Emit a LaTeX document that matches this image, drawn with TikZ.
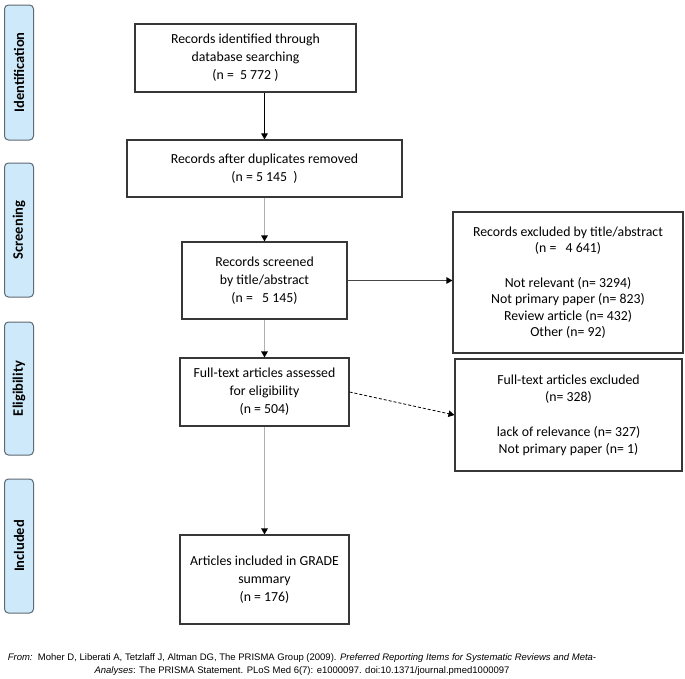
\documentclass[tikz,border=0pt]{standalone}
\usepackage{fontspec}
\setmainfont{Carlito}
\newfontfamily\footfont{Liberation Sans}
\usetikzlibrary{arrows.meta}
\definecolor{barfill}{RGB}{206,234,250}
\definecolor{bardraw}{RGB}{95,105,115}
\definecolor{boxdraw}{RGB}{55,55,55}
\definecolor{linegray}{RGB}{175,175,175}
\tikzset{
  box/.style={draw=boxdraw, line width=1.1pt, fill=white, align=center, inner sep=2pt,
    font=\fontsize{13.8}{18}\selectfont},
  sidebar/.style={draw=bardraw, line width=1pt, fill=barfill, rounded corners=4pt,
    minimum width=29pt, inner sep=0pt},
  sidelabel/.style={rotate=90, font=\fontsize{14.5}{16}\selectfont\bfseries},
  tip/.style={-{Triangle[width=6.5pt,length=6pt,color=black]}},
  darrow/.style={line width=1pt, black, tip},
  garrow/.style={line width=1.2pt, linegray, tip},
}
\begin{document}
\begin{tikzpicture}[x=1pt,y=-1pt]
\useasboundingbox[fill=white] (0,0) rectangle (685,678);

% side bars
\node[sidebar, minimum height=135pt] (sid) at (19,72.5) {};
\node[sidelabel] (tid) at (sid.center) {Identification};
\node[sidebar, minimum height=134pt] (sscr) at (19,230) {};
\node[sidelabel] (tscr) at (sscr.center) {Screening};
\node[sidebar, minimum height=133pt] (selg) at (19,388.5) {};
\node[sidelabel] (telg) at (selg.center) {Eligibility};
\node[sidebar, minimum height=134pt] (sinc) at (19,546) {};
\node[sidelabel] (tinc) at (sinc.center) {Included};

% main boxes
\node[box, minimum width=221pt, minimum height=68pt] (b1) at (245.5,58)
  {Records identified through\\database searching\\(n =\ \ 5 772 )};
\node[box, minimum width=275pt, minimum height=57pt] (b2) at (264.5,168.5)
  {Records after duplicates removed\\(n = 5 145\ \ )};
\node[box, minimum width=165pt, minimum height=77pt] (b3) at (264.5,280.5)
  {Records screened\\by title/abstract\\(n =\ \ \ 5 145)};
\node[box, minimum width=169pt, minimum height=68pt] (b4) at (264.5,392)
  {Full-text articles assessed\\for eligibility\\(n = 504)};
\node[box, minimum width=169pt, minimum height=89pt] (b5) at (264.5,579.5)
  {Articles included in GRADE\\summary\\(n = 176)};

% right boxes
\node[box, minimum width=230pt, minimum height=141pt, font=\fontsize{13.8}{16.5}\selectfont] (r1) at (568,282.5)
  {Records excluded by title/abstract\\(n =\ \ \ 4 641)\\[18pt]Not relevant (n= 3294)\\Not primary paper (n= 823)\\Review article (n= 432)\\Other (n= 92)};
\node[box, minimum width=227pt, minimum height=112pt, font=\fontsize{13.8}{17}\selectfont] (r2) at (568.5,415)
  {Full-text articles excluded\\(n= 328)\\[18pt]lack of relevance (n= 327)\\Not primary paper (n= 1)};

% connectors
\draw[darrow] (b2.north |- b1.south) -- (b2.north);
\draw[garrow] (b2.south) -- (b3.north);
\draw[garrow] (b3.south) -- (b4.north);
\draw[garrow] (b4.south) -- (b5.north);
\draw[line width=1.1pt, gray!55!black, tip] (b3.east) -- (b3.east -| r1.west);
\draw[line width=0.8pt, black, dashed, dash pattern=on 3pt off 2pt, tip] (b4.east) -- (r2.west);

% footer
\node[align=center, font=\footfont\fontsize{9.5}{13}\selectfont, inner sep=0pt] (foot) at (302,664.5)
  {\textit{From:}\ \ Moher D, Liberati A, Tetzlaff J, Altman DG, The PRISMA Group (2009). \textit{Preferred Reporting Items for Systematic Reviews and Meta-}\\\textit{Analyses}: The PRISMA Statement. PLoS Med 6(7): e1000097. doi:10.1371/journal.pmed1000097};
\end{tikzpicture}
\end{document}
